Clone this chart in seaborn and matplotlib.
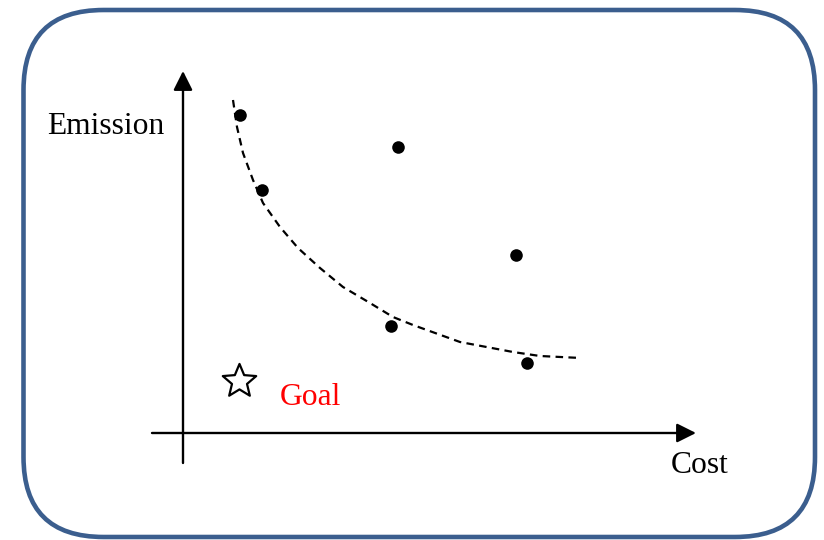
import matplotlib
matplotlib.use("Agg")
import matplotlib.pyplot as plt
import seaborn as sns
import pandas as pd
import numpy as np
from matplotlib.patches import FancyBboxPatch
from matplotlib.path import Path

sns.set_theme(style="white")
plt.rcParams['font.family'] = ['Liberation Serif', 'DejaVu Serif']

# Data (arbitrary units)
cost = [0.57, 0.79, 2.15, 3.33, 2.08, 3.44]
emission = [3.18, 2.43, 2.86, 1.78, 1.07, 0.70]

front_cost = [0.50, 0.54, 0.60, 0.70, 0.80, 0.97, 1.15, 1.37, 1.60, 1.87,
              2.10, 2.30, 2.77, 3.30, 3.57, 3.98]
front_emission = [3.33, 3.06, 2.80, 2.53, 2.30, 2.06, 1.85, 1.65, 1.46, 1.30,
                  1.16, 1.08, 0.91, 0.81, 0.77, 0.75]

goal_cost = [0.56]
goal_emission = [0.52]

axis_labels = ["Cost", "Emission"]
goal_label = "Goal"

pts = pd.DataFrame({"cost": cost, "emission": emission})
front = pd.DataFrame({"cost": front_cost, "emission": front_emission})
goal = pd.DataFrame({"cost": goal_cost, "emission": goal_emission})

fig = plt.figure(figsize=(8.24, 5.40), dpi=100)
ax = fig.add_axes([0, 0, 1, 1])
ax.set_xlim(-1.83, 6.41)
ax.set_ylim(-1.07, 4.33)
ax.axis('off')

# rounded border
border = FancyBboxPatch((-1.595, -1.04), 6.32 + 1.595, 4.23 + 1.04,
                        boxstyle="round,pad=0,rounding_size=0.8",
                        fill=False, edgecolor="#3B5E8E", linewidth=3.3,
                        clip_on=False, zorder=1)
ax.add_patch(border)

# axes arrows
arrow_kw = dict(arrowstyle='-|>', mutation_scale=29, lw=1.7, color='black',
                shrinkA=0, shrinkB=0)
ax.annotate('', xy=(0, 3.62), xytext=(0, -0.30), arrowprops=arrow_kw)
ax.annotate('', xy=(5.13, 0), xytext=(-0.31, 0), arrowprops=arrow_kw)

# dashed front curve
sns.lineplot(data=front, x="cost", y="emission", sort=False, estimator=None,
             color='black', linewidth=1.6, ax=ax, dashes=False)
ax.lines[-1].set_linestyle((0, (3.4, 2.4)))

# points
sns.scatterplot(data=pts, x="cost", y="emission", color='black', s=82,
                linewidth=0, ax=ax, zorder=5)

# goal star marker shape (fatter five-point star, closed path)
ang = np.pi / 2 + np.arange(10) * np.pi / 5
rad = np.where(np.arange(10) % 2 == 0, 1.0, 0.45)
verts = np.column_stack([rad * np.cos(ang), rad * np.sin(ang)])
verts = np.vstack([verts, verts[:1]])
codes = [Path.MOVETO] + [Path.LINETO] * 9 + [Path.CLOSEPOLY]
star_path = Path(verts, codes)

sns.scatterplot(data=goal, x="cost", y="emission", marker=star_path, s=640,
                facecolor='white', edgecolor='black', linewidth=1.6, ax=ax,
                zorder=5)

ax.set_xlabel("")
ax.set_ylabel("")

fs = 22.7
ax.text(-1.36, 2.99, axis_labels[1], fontsize=fs, ha='left', va='baseline',
        color='black')
ax.text(4.88, -0.40, axis_labels[0], fontsize=fs, ha='left', va='baseline',
        color='black')
ax.text(0.97, 0.28, goal_label, fontsize=fs, ha='left', va='baseline',
        color='#FF0000')

fig.savefig("out.png", dpi=100)
